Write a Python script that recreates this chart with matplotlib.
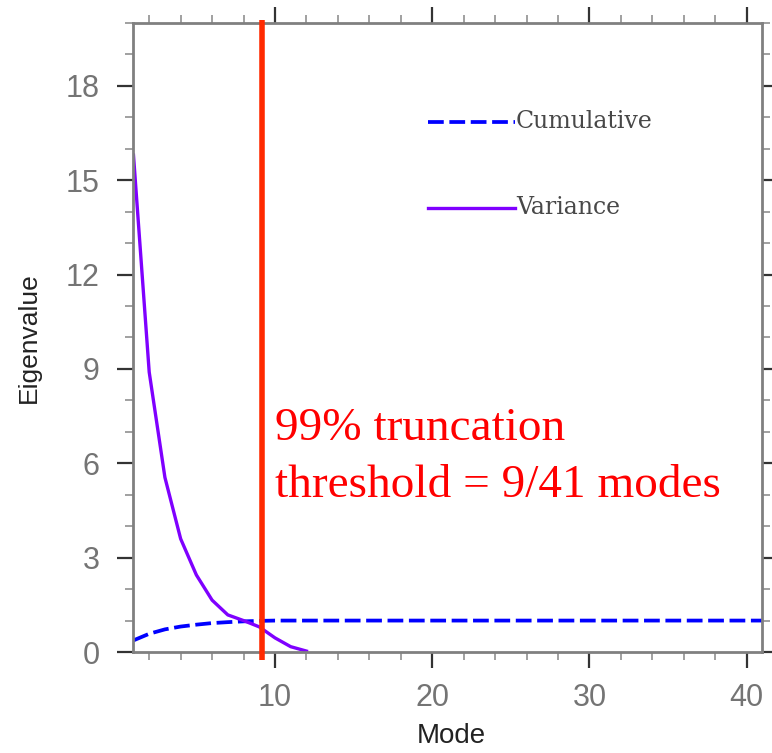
import matplotlib
matplotlib.use("Agg")
import matplotlib.pyplot as plt
from matplotlib.ticker import MultipleLocator
import matplotlib.transforms as mtransforms

# values
modes_var = [1, 2, 3, 4, 5, 6, 7, 8, 9, 10, 11, 12]
variance = [15.8, 8.9, 5.55, 3.6, 2.45, 1.65, 1.18, 1.0, 0.8, 0.45, 0.17, 0.03]

modes_cum = list(range(1, 42))
cumulative = [0.37, 0.58, 0.72, 0.81, 0.87, 0.92, 0.95, 0.975, 0.99, 1.0,
              1.0, 1.0, 1.0, 1.0, 1.0, 1.0, 1.0, 1.0, 1.0, 1.0,
              1.0, 1.0, 1.0, 1.0, 1.0, 1.0, 1.0, 1.0, 1.0, 1.0,
              1.0, 1.0, 1.0, 1.0, 1.0, 1.0, 1.0, 1.0, 1.0, 1.0,
              1.0]

threshold_mode = 9.17
note_line1 = "99% truncation"
note_line2 = "threshold = 9/41 modes"
legend_names = ["Cumulative", "Variance"]


def main():
    fig = plt.figure(figsize=(7.72, 7.53), dpi=100)
    ax = fig.add_axes([0.1729, 0.1341, 0.8146, 0.8354])

    blue = "#0000ff"
    violet = "#7f00ff"
    red = "#ff2a00"

    ax.plot(modes_cum, cumulative, color=blue, lw=2.7, dashes=(4.2, 1.5))
    ax.plot(modes_var, variance, color=violet, lw=2.4)

    # threshold line sticks out a bit above and below the frame
    trans = mtransforms.blended_transform_factory(ax.transData, ax.transAxes)
    ax.plot([threshold_mode, threshold_mode], [-0.013, 1.005], color=red,
            lw=4.0, transform=trans, clip_on=False, zorder=5,
            solid_capstyle="butt")

    ax.text(0.225, 0.337, note_line1, transform=ax.transAxes, color="#ff0000",
            fontsize=34, family="Liberation Serif", va="baseline", ha="left")
    ax.text(0.225, 0.246, note_line2, transform=ax.transAxes, color="#ff0000",
            fontsize=34, family="Liberation Serif", va="baseline", ha="left")

    # hand-made legend like the NCL one
    ax.plot([0.468, 0.607], [0.843, 0.843], color=blue, lw=2.7,
            dashes=(4.2, 1.5), transform=ax.transAxes)
    ax.plot([0.468, 0.607], [0.706, 0.706], color=violet, lw=2.4,
            transform=ax.transAxes)
    ax.text(0.608, 0.843, legend_names[0], transform=ax.transAxes,
            family="DejaVu Serif", fontsize=17, color="#484848",
            va="center", ha="left")
    ax.text(0.608, 0.706, legend_names[1], transform=ax.transAxes,
            family="DejaVu Serif", fontsize=17, color="#484848",
            va="center", ha="left")

    ax.set_xlim(1, 41)
    ax.set_ylim(0, 20)
    ax.xaxis.set_major_locator(MultipleLocator(10))
    ax.xaxis.set_minor_locator(MultipleLocator(2))
    ax.yaxis.set_major_locator(MultipleLocator(3))
    ax.yaxis.set_minor_locator(MultipleLocator(1))

    for sp in ax.spines.values():
        sp.set_color("#808080")
        sp.set_linewidth(2.0)

    ax.tick_params(which="both", direction="out", top=True, right=True)
    ax.tick_params(which="major", length=11.5, width=1.6, color="#333333",
                   labelsize=22, labelcolor="#747474")
    ax.tick_params(which="minor", length=5.5, width=1.2, color="#909090")
    ax.tick_params(axis="y", which="major", pad=13)
    ax.tick_params(axis="x", which="major", pad=11)
    for lab in ax.get_xticklabels() + ax.get_yticklabels():
        lab.set_family("Liberation Sans")

    ax.set_ylabel("Eigenvalue", family="Liberation Sans", fontsize=19,
                  color="#222222")
    ax.yaxis.set_label_coords(-0.148, 0.5)
    ax.set_xlabel("Mode", family="Liberation Sans", fontsize=20,
                  color="#222222")
    ax.xaxis.set_label_coords(0.506, -0.113)

    fig.savefig("out.png", dpi=100)


if __name__ == "__main__":
    main()
